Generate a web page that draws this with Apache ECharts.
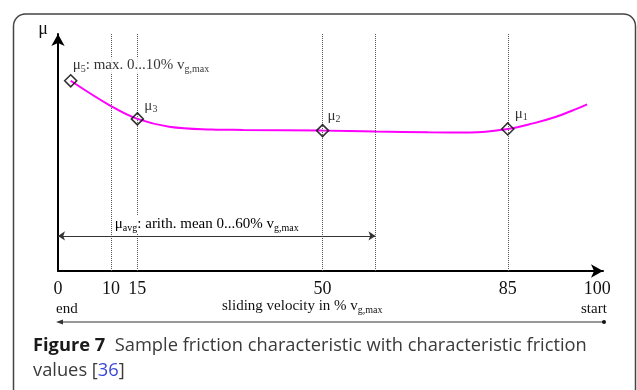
<!DOCTYPE html>
<html>
<head>
<meta charset="utf-8">
<script src="https://cdn.jsdelivr.net/npm/echarts@6/dist/echarts.min.js"></script>
<style>
  html, body { margin: 0; padding: 0; background: #fff; }
  #main { width: 637px; height: 390px; }
</style>
</head>
<body>
<div id="main"></div>
<script>
// courbe de frottement (vitesse en % de v_g,max, mu en unités relatives)
const speed = [2.4, 10, 15, 21, 29, 35, 50, 60, 70, 78, 85, 90, 94, 97, 100];
const mu = [0.813, 0.705, 0.650, 0.617, 0.605, 0.603, 0.600, 0.596, 0.593, 0.592, 0.607, 0.632, 0.658, 0.684, 0.712];

// points caractéristiques
const markSpeed = [2.4, 15, 50, 85];
const markMu = [0.813, 0.650, 0.600, 0.607];
const markIdx = ['5', '3', '2', '1'];

const guideSpeed = [10, 15, 50, 60, 85];
const tickValues = [0, 10, 15, 50, 85, 100];
const avgRange = [0, 60];
const avgLevel = 0.150;

const serif = 'Liberation Serif';
const sans = 'Open Sans';

const chart = echarts.init(document.getElementById('main'), null, { renderer: 'canvas' });

const subRich = {
  m: { fontFamily: serif, fontSize: 15, color: '#000' },
  s: { fontFamily: serif, fontSize: 10, color: '#000', padding: [7, 0, 0, 0] }
};

const labelOffsets = { '5': [2, 5], '3': [7, 7], '2': [5, 6], '1': [7, 5] };

const markData = markSpeed.map((x, i) => {
  const k = markIdx[i];
  const text = k === '5'
    ? '{m|μ}{s|5}{m|: max. 0...10% v}{s|g,max}'
    : '{m|μ}{s|' + k + '}';
  return {
    value: [x, markMu[i]],
    label: {
      show: true,
      formatter: text,
      position: 'top', align: 'left', distance: 5,
      offset: labelOffsets[k],
      backgroundColor: k === '5' ? '#fff' : 'transparent',
      rich: subRich
    }
  };
});

const guideLines = guideSpeed.map(v => ({
  xAxis: v,
  lineStyle: { type: 'dotted', color: '#555', width: 1 },
  label: { show: false }
}));

const avgLabel = {
  show: true, position: 'middle', distance: 3,
  formatter: '{m|μ}{s|avg}{m|: arith. mean 0...60% v}{s|g,max}',
  backgroundColor: '#fff', padding: [0, 2, 0, 2], offset: [-10, 0],
  rich: subRich
};

const option = {
  animation: false,
  title: {
    left: 28, top: 328,
    text: '{b|Figure 7}  Sample friction characteristic with characteristic friction\nvalues [{l|36}]',
    textStyle: {
      fontFamily: sans, fontSize: 18.3, fontWeight: 'normal', color: '#3a3a3a', lineHeight: 25,
      rich: {
        b: { fontFamily: sans, fontSize: 18.3, fontWeight: 'bold', color: '#1a1a1a', lineHeight: 25 },
        l: { fontFamily: sans, fontSize: 18.3, color: '#3b48d6', lineHeight: 25 }
      }
    }
  },
  grid: { left: 58, right: 34, top: 34, bottom: 119 },
  xAxis: {
    type: 'value', min: 0, max: 103,
    splitLine: { show: false },
    axisTick: { show: false },
    axisLine: { lineStyle: { color: '#000', width: 2 }, symbol: ['none', 'arrow'], symbolSize: [10, 12] },
    axisLabel: {
      customValues: tickValues,
      fontFamily: serif, fontSize: 18, color: '#111', margin: 9,
      formatter: v => Math.round(v) === 100 ? '{r|100}' : String(Math.round(v)),
      rich: { r: { fontFamily: serif, fontSize: 18, color: '#111', padding: [0, 0, 0, 20] } }
    }
  },
  yAxis: {
    type: 'value', min: 0, max: 1.013,
    name: 'μ', nameLocation: 'end', nameGap: -4,
    nameTextStyle: { fontFamily: serif, fontSize: 18, color: '#111', align: 'right', padding: [0, 10, 0, 0] },
    splitLine: { show: false },
    axisTick: { show: false },
    axisLabel: { show: false },
    axisLine: { lineStyle: { color: '#000', width: 2 }, symbol: ['none', 'arrow'], symbolSize: [10, 12] }
  },
  series: [
    {
      type: 'line',
      data: speed.map((x, i) => [x, mu[i]]),
      smooth: 0.4,
      showSymbol: false,
      lineStyle: { color: '#ff00ff', width: 2 },
      markLine: {
        silent: true,
        symbol: ['none', 'none'],
        data: guideLines.concat([[
          { coord: [avgRange[0], avgLevel], symbol: 'arrow', symbolSize: 7,
            lineStyle: { type: 'solid', color: '#333', width: 1 }, label: avgLabel },
          { coord: [avgRange[1], avgLevel], symbol: 'arrow', symbolSize: 7 }
        ]])
      }
    },
    {
      type: 'scatter',
      z: 5,
      data: markData,
      symbol: 'diamond',
      symbolSize: [12, 12],
      itemStyle: { color: 'rgba(0,0,0,0)', borderColor: '#000', borderWidth: 1.6 }
    }
  ],
  graphic: [
    { type: 'rect', shape: { x: 13.5, y: 14, width: 622, height: 420, r: 12 },
      style: { fill: 'none', stroke: '#444', lineWidth: 1.5 }, silent: true },
    { type: 'line', shape: { x1: 60, y1: 322, x2: 604, y2: 322 },
      style: { stroke: '#333', lineWidth: 1.2 } },
    { type: 'polygon', shape: { points: [[56, 322], [63, 319.5], [63, 324.5]] }, style: { fill: '#333' } },
    { type: 'circle', shape: { cx: 604, cy: 322, r: 2 }, style: { fill: '#111' } },
    { type: 'text', left: 56, top: 302,
      style: { text: 'end', font: '15px "Liberation Serif"', fill: '#111' } },
    { type: 'text', left: 581, top: 302,
      style: { text: 'start', font: '15px "Liberation Serif"', fill: '#111' } },
    { type: 'text', left: 222, top: 299,
      style: {
        text: '{m|sliding velocity in % v}{s|g,max}',
        rich: {
          m: { fontFamily: serif, fontSize: 15, fill: '#111' },
          s: { fontFamily: serif, fontSize: 10, fill: '#111', padding: [7, 0, 0, 0] }
        }
      } }
  ]
};

chart.setOption(option);

window.addEventListener('resize', () => {
  chart.resize();
});
</script>
</body>
</html>
